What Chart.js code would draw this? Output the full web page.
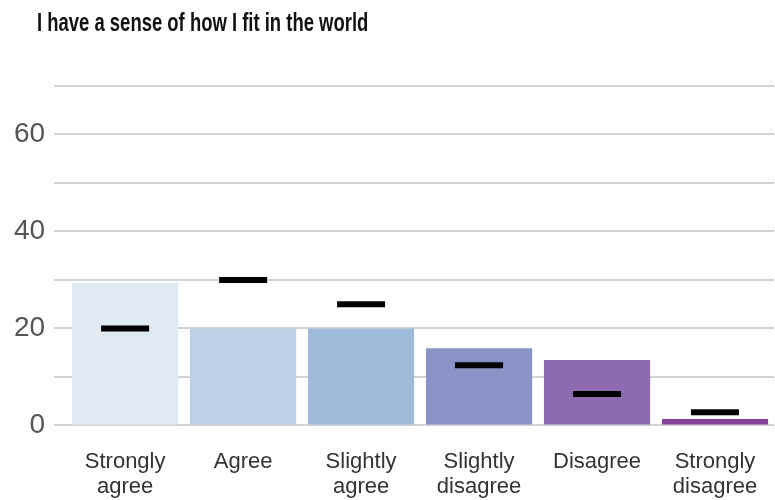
<!DOCTYPE html>
<html>
<head>
<meta charset="utf-8">
<script src="https://cdn.jsdelivr.net/npm/chart.js@4.4.1/dist/chart.umd.min.js"></script>
<style>
  html, body { margin: 0; padding: 0; background: #fff; overflow: hidden; }
  #wrap { position: relative; width: 775px; height: 500px; }
  #chart { display: block; }
  #title {
    position: absolute; left: 37px; top: 7px;
    font: bold 26px "Liberation Sans", Arial, sans-serif;
    color: #111;
    white-space: nowrap;
    transform: scaleX(0.71);
    transform-origin: 0 0;
  }
</style>
</head>
<body>
<div id="wrap">
  <div id="title">I have a sense of how I fit in the world</div>
  <canvas id="chart" width="775" height="500"></canvas>
</div>
<script>
// categories (multi-line labels)
const categories = [
  ['Strongly', 'agree'],
  'Agree',
  ['Slightly', 'agree'],
  ['Slightly', 'disagree'],
  'Disagree',
  ['Strongly', 'disagree']
];

// bar values (%)
const barValues = [29.4, 20, 20, 15.9, 13.5, 1.3];

// black marker values (%)
const markerValues = [20, 30, 25, 12.4, 6.5, 2.7];

// bar colours, light blue -> purple
const barColors = ['#dfeaf3', '#bcd1e6', '#9ebbd9', '#8a93c5', '#8c6bb1', '#88419d'];

// y axis
const yMin = 0;
const yMax = 70;
const yStep = 10;

// drop the extra room chart.js keeps for edge labels, layout padding handles it
const noEdgePadding = (scale) => {
  scale.paddingLeft = 0;
  scale.paddingRight = 0;
  scale.paddingTop = 0;
  scale.paddingBottom = 0;
};

const ctx = document.getElementById('chart').getContext('2d');

new Chart(ctx, {
  data: {
    labels: categories,
    datasets: [
      {
        type: 'line',
        data: markerValues,
        showLine: false,
        pointStyle: 'line',
        pointRadius: 24,
        pointHoverRadius: 24,
        pointBorderWidth: 6,
        pointHoverBorderWidth: 6,
        borderColor: '#000',
        backgroundColor: '#000',
        order: 0
      },
      {
        type: 'bar',
        data: barValues,
        backgroundColor: barColors,
        borderWidth: 0,
        barPercentage: 0.9,
        categoryPercentage: 1.0,
        order: 1
      }
    ]
  },
  options: {
    responsive: false,
    animation: false,
    layout: {
      autoPadding: false,
      // tick padding is counted twice in the axis box, bottom pulls that back
      padding: { top: 86, left: 5, right: 1, bottom: -24 }
    },
    plugins: {
      legend: { display: false },
      tooltip: { enabled: false },
      title: { display: false }
    },
    scales: {
      x: {
        afterFit: noEdgePadding,
        grid: { display: false, drawTicks: false },
        border: { display: false },
        ticks: {
          padding: 24,
          maxRotation: 0,
          autoSkip: false,
          color: '#333',
          font: { family: '"Liberation Sans", Arial, sans-serif', size: 22, lineHeight: 1.15 }
        }
      },
      y: {
        min: yMin,
        max: yMax,
        afterFit: noEdgePadding,
        grid: {
          color: '#d4d4d4',
          lineWidth: 2,
          tickLength: 12,
          drawTicks: true
        },
        border: { display: false },
        ticks: {
          stepSize: yStep,
          padding: 9,
          color: '#555',
          font: { family: '"Liberation Sans", Arial, sans-serif', size: 28 },
          callback: (v) => (v % 20 === 0 ? v : '')
        }
      }
    }
  }
});
</script>
</body>
</html>
